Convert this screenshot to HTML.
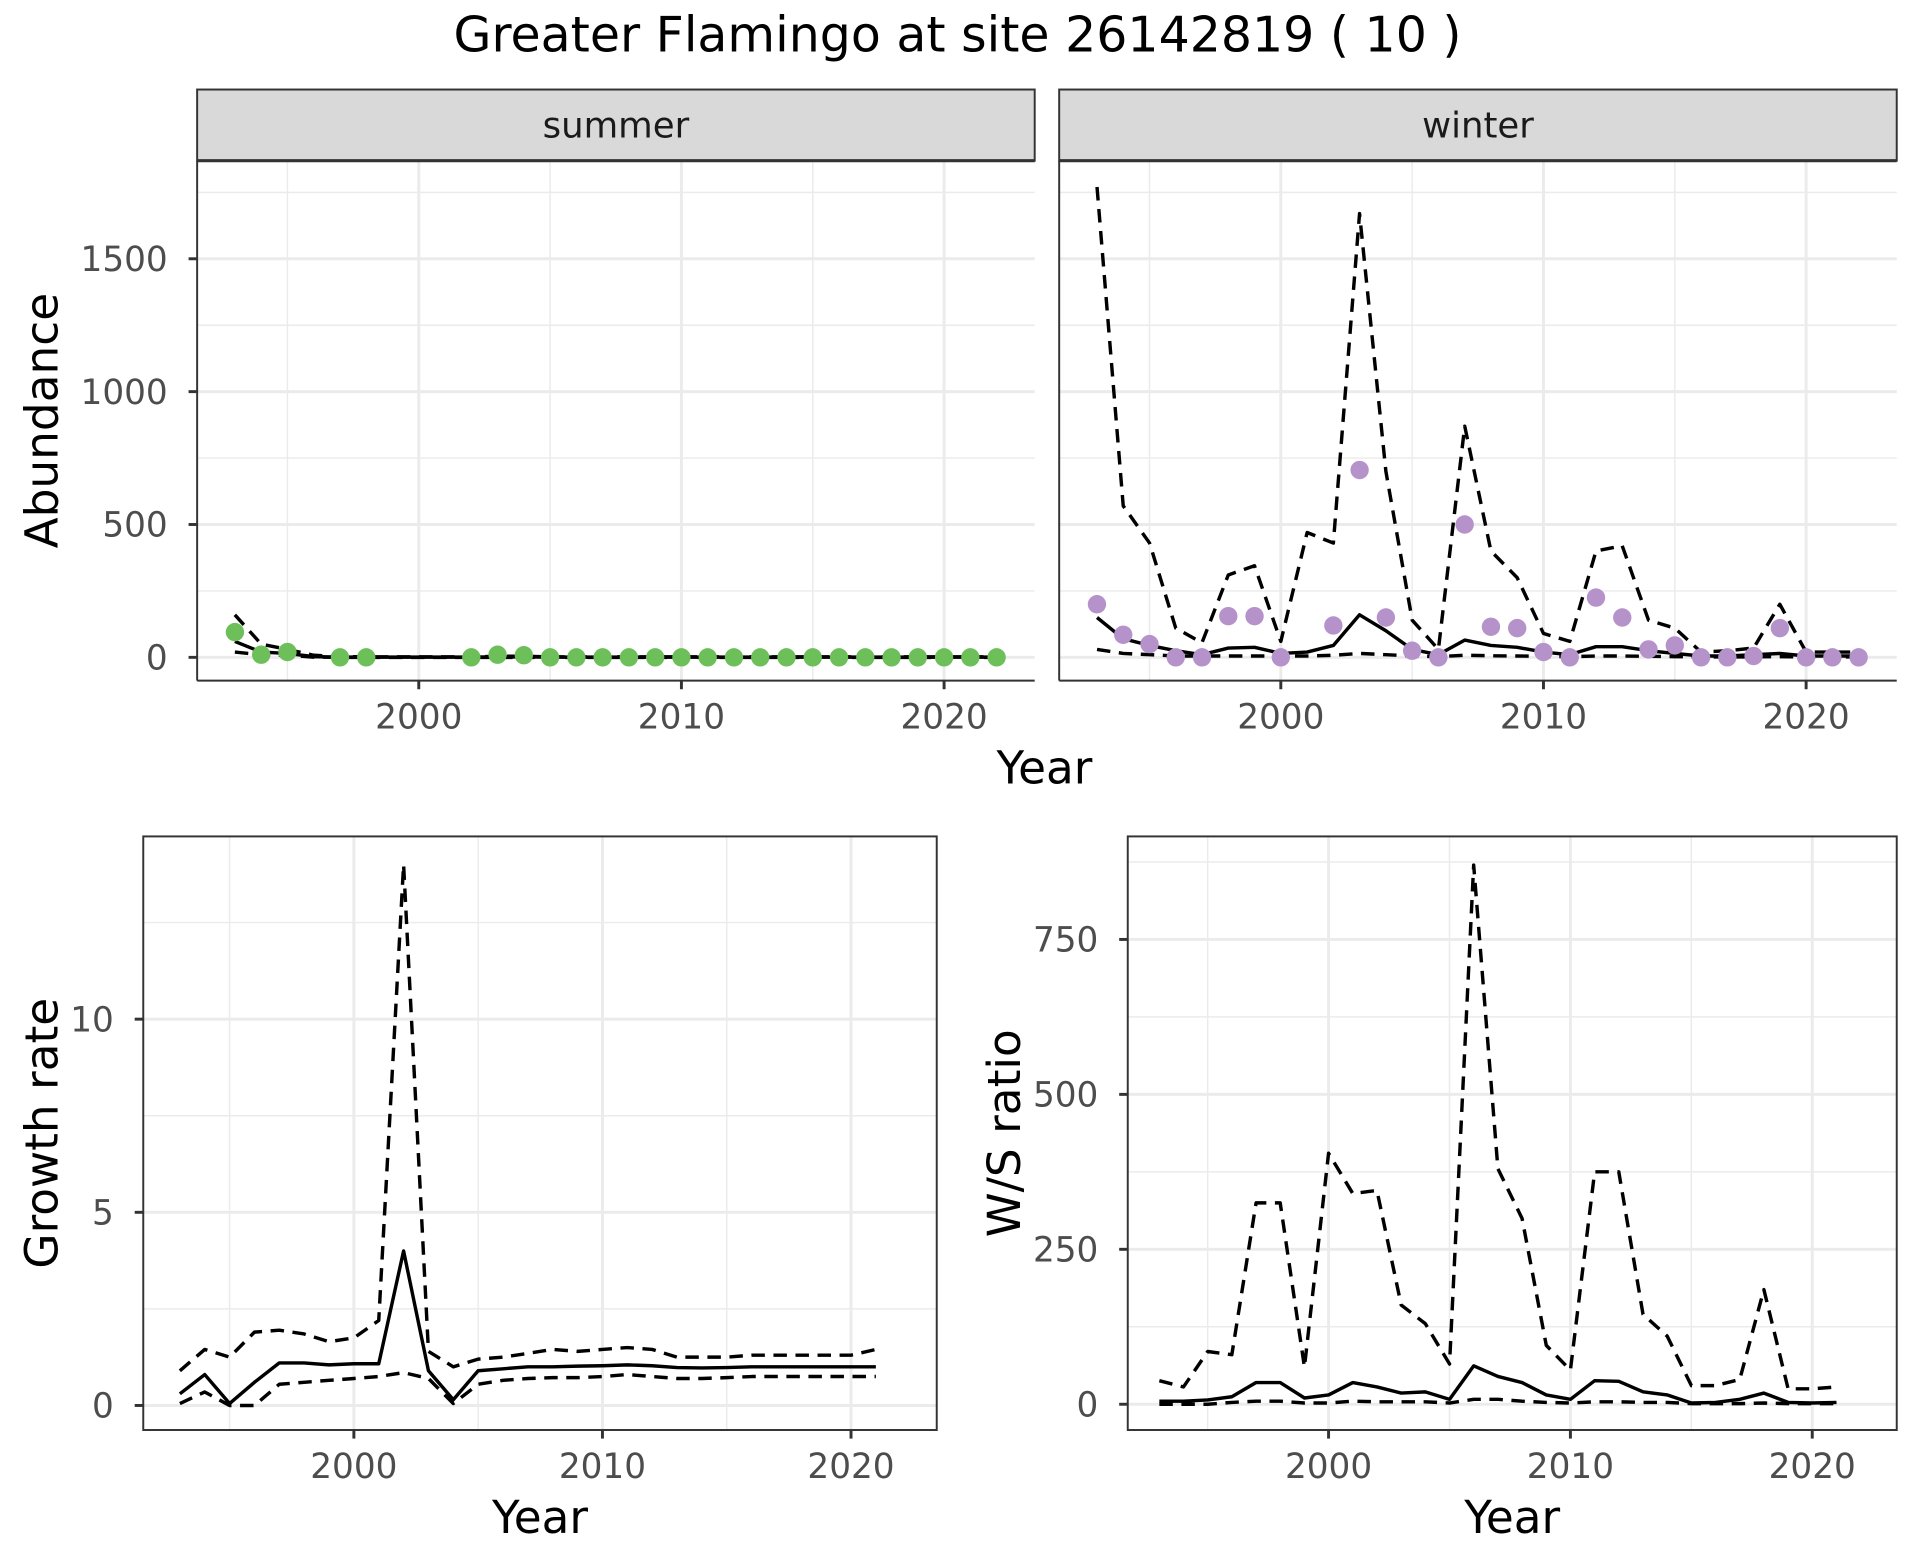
<!DOCTYPE html>
<html><head><meta charset="utf-8"><style>
html,body{margin:0;padding:0;background:#fff;}
svg{display:block;font-family:"DejaVu Sans","Liberation Sans",sans-serif;}
</style></head><body>
<svg id="chart" width="1920" height="1560" viewBox="0 0 1568 1272" preserveAspectRatio="none">
<text x="782" y="42" text-anchor="middle" font-size="40" fill="#000">Greater Flamingo at site 26142819 ( 10 )</text>
</svg>
<script>
// ---- data ----
const yearsAbund = [1993,1994,1995,1996,1997,1998,1999,2000,2001,2002,2003,2004,2005,2006,2007,2008,2009,2010,2011,2012,2013,2014,2015,2016,2017,2018,2019,2020,2021,2022];
const summerPts = [95,10,20,null,0,0,null,null,null,0,10,8,0,0,0,0,0,0,0,0,0,0,0,0,0,0,0,0,0,0];
const summerMid = [60,20,15,3,1,1,1,1,1,1,2,2,1,1,1,1,1,1,1,1,1,1,1,1,1,1,1,1,1,1];
const summerUp  = [160,50,30,8,3,2,2,2,2,2,4,4,2,2,2,2,2,2,2,2,2,2,2,2,2,2,2,2,2,2];
const summerLo  = [20,10,8,1,0,0,0,0,0,0,0,0,0,0,0,0,0,0,0,0,0,0,0,0,0,0,0,0,0,0];
const winterPts = [200,85,50,0,0,155,155,0,null,120,705,150,25,0,500,115,110,20,0,225,150,30,45,0,0,5,110,0,0,0];
const winterMid = [150,70,45,25,10,35,38,15,20,45,160,100,30,10,65,45,38,20,10,40,40,25,15,5,5,10,15,5,5,5];
const winterUp  = [1770,570,430,110,55,310,345,60,470,430,1670,700,140,30,870,400,300,90,60,400,420,140,110,20,25,35,200,20,20,20];
const winterLo  = [30,15,10,5,5,5,5,5,5,8,15,10,5,3,8,6,5,4,3,5,5,4,3,2,2,2,3,2,2,2];

const yearsRate = [1993,1994,1995,1996,1997,1998,1999,2000,2001,2002,2003,2004,2005,2006,2007,2008,2009,2010,2011,2012,2013,2014,2015,2016,2017,2018,2019,2020,2021];
const growthMid = [0.3,0.8,0.05,0.6,1.1,1.1,1.05,1.08,1.08,4.0,0.9,0.15,0.9,0.95,1.0,1.0,1.02,1.03,1.05,1.03,0.98,0.97,0.98,1.0,1.0,1.0,1.0,1.0,1.0];
const growthUp  = [0.9,1.45,1.25,1.9,1.95,1.85,1.65,1.75,2.2,14.0,1.4,1.0,1.2,1.25,1.35,1.45,1.4,1.45,1.5,1.45,1.25,1.25,1.25,1.3,1.3,1.3,1.3,1.3,1.45];
const growthLo  = [0.05,0.35,0.0,0.0,0.55,0.6,0.65,0.7,0.75,0.85,0.7,0.05,0.55,0.65,0.7,0.72,0.72,0.75,0.8,0.75,0.7,0.7,0.72,0.75,0.75,0.75,0.75,0.75,0.75];
const ratioMid = [5,5,7,12,35,35,10,15,35,28,18,20,8,62,45,35,15,8,38,37,20,15,2,3,8,18,3,2,3];
const ratioUp  = [38,28,85,80,325,325,60,405,340,345,160,130,65,870,380,300,95,55,375,375,145,110,30,30,40,185,25,25,28];
const ratioLo  = [0,0,0,3,5,5,2,2,5,4,4,4,2,8,8,5,3,2,4,4,3,3,1,1,1,2,1,1,1];

const xTicks = [2000,2010,2020];
const abundTicks = [0,500,1000,1500];
const growthTicks = [0,5,10];
const ratioTicks = [0,250,500,750];

// ---- drawing ----
const NS='http://www.w3.org/2000/svg';
const svg=document.getElementById('chart');
function mk(tag,attrs,parent){const e=document.createElementNS(NS,tag);for(const k in attrs)e.setAttribute(k,attrs[k]);(parent||svg).appendChild(e);return e;}

function panel(o){
  const g=mk('g',{});
  
  
  const sx=v=>o.x0+(v-o.xd0)*(o.x1-o.x0)/(o.xd1-o.xd0);
  const sy=v=>o.y0+(v-o.yd0)*(o.y1-o.y0)/(o.yd1-o.yd0);
  mk('rect',{x:o.l,y:o.t,width:o.r-o.l,height:o.b-o.t,fill:'#fff'},g);
  for(let i=0;i<o.yt.length;i++){const v=o.yt[i]+o.ystep/2;const yy=sy(v);if(yy>o.t&&yy<o.b)mk('line',{x1:o.l,x2:o.r,y1:yy,y2:yy,stroke:'#ebebeb','stroke-width':1.2},g);}
  {const v=o.yt[0]-o.ystep/2;const yy=sy(v);if(yy>o.t&&yy<o.b)mk('line',{x1:o.l,x2:o.r,y1:yy,y2:yy,stroke:'#ebebeb','stroke-width':1.2},g);}
  for(const v of [1995,2005,2015]){const xx=sx(v);mk('line',{x1:xx,x2:xx,y1:o.t,y2:o.b,stroke:'#ebebeb','stroke-width':1.2},g);}
  for(const v of o.yt){const yy=sy(v);mk('line',{x1:o.l,x2:o.r,y1:yy,y2:yy,stroke:'#ebebeb','stroke-width':2.4},g);}
  for(const v of xTicks){const xx=sx(v);mk('line',{x1:xx,x2:xx,y1:o.t,y2:o.b,stroke:'#ebebeb','stroke-width':2.4},g);}
  function line(xs,ys,dash,nm){
    const pts=[];for(let i=0;i<xs.length;i++){if(ys[i]!=null)pts.push(sx(xs[i]).toFixed(1)+','+sy(ys[i]).toFixed(1));}
    const p=mk('polyline',{points:pts.join(' '),fill:'none',stroke:'#000','stroke-width':2.8,'stroke-linejoin':'round'},g);
    if(dash)p.setAttribute('stroke-dasharray','11,7');
    
    
  }
  line(o.xs,o.lo,true,'lower-bound-line');
  line(o.xs,o.up,true,'upper-bound-line');
  line(o.xs,o.mid,false,'trend-line');
  if(o.pts){for(let i=0;i<o.xs.length;i++){if(o.pts[i]==null)continue;
    const c=mk('circle',{cx:sx(o.xs[i]),cy:sy(o.pts[i]),r:7.5,fill:o.color},g);
    
    }}
  if(o.box){mk('rect',{x:o.l,y:o.t,width:o.r-o.l,height:o.b-o.t,fill:'none',stroke:'#333','stroke-width':1.6},g);}
  else{mk('line',{x1:o.l,x2:o.l,y1:o.t,y2:o.b,stroke:'#333','stroke-width':1.6},g);mk('line',{x1:o.l,x2:o.r,y1:o.b,y2:o.b,stroke:'#333','stroke-width':1.6},g);}
  if(o.yLabels){for(const v of o.yt){const yy=sy(v);mk('line',{x1:o.l-7,x2:o.l,y1:yy,y2:yy,stroke:'#333','stroke-width':2.4},g);
    const t=mk('text',{x:o.l-24,y:yy+10,'text-anchor':'end','font-size':28,fill:'#4d4d4d'},g);t.textContent=String(v);
    
    }}
  for(const v of xTicks){const xx=sx(v);mk('line',{x1:xx,x2:xx,y1:o.b,y2:o.b+7,stroke:'#333','stroke-width':2.4},g);
    const t=mk('text',{x:xx,y:o.b+39,'text-anchor':'middle','font-size':28,fill:'#4d4d4d'},g);t.textContent=String(v);
    
    }
  if(o.strip){mk('rect',{x:o.l,y:o.t-58,width:o.r-o.l,height:58,fill:'#d9d9d9',stroke:'#333','stroke-width':1.6},g);
    mk('line',{x1:o.l,x2:o.r,y1:o.t,y2:o.t,stroke:'#333','stroke-width':2.6},g);
    const t=mk('text',{x:(o.l+o.r)/2,y:o.t-19,'text-anchor':'middle','font-size':29,fill:'#1a1a1a'},g);t.textContent=o.strip;
    
    }
}

panel({name:'summer-panel',l:161,r:845,t:131,b:555,x0:342,x1:771,xd0:2000,xd1:2020,y0:536,y1:211,yd0:0,yd1:1500,yt:abundTicks,ystep:500,
  xs:yearsAbund,pts:summerPts,mid:summerMid,up:summerUp,lo:summerLo,color:'#6dbf5a',yLabels:true,strip:'summer',box:false});
panel({name:'winter-panel',l:865,r:1549,t:131,b:555,x0:1046,x1:1475,xd0:2000,xd1:2020,y0:536,y1:211,yd0:0,yd1:1500,yt:abundTicks,ystep:500,
  xs:yearsAbund,pts:winterPts,mid:winterMid,up:winterUp,lo:winterLo,color:'#b592c9',yLabels:false,strip:'winter',box:false});
panel({name:'growth-rate-panel',l:117,r:765,t:682,b:1166,x0:289,x1:695,xd0:2000,xd1:2020,y0:1146,y1:831,yd0:0,yd1:10,yt:growthTicks,ystep:5,
  xs:yearsRate,mid:growthMid,up:growthUp,lo:growthLo,yLabels:true,box:true});
panel({name:'ws-ratio-panel',l:921,r:1549,t:682,b:1166,x0:1085,x1:1480,xd0:2000,xd1:2020,y0:1145,y1:766,yd0:0,yd1:750,yt:ratioTicks,ystep:250,
  xs:yearsRate,mid:ratioMid,up:ratioUp,lo:ratioLo,yLabels:true,box:true});

function label(txt,x,y,rot,nm){const t=mk('text',{x:x,y:y,'text-anchor':'middle','font-size':37,fill:'#000'});
  if(rot)t.setAttribute('transform','rotate(-90 '+x+' '+y+')');t.textContent=txt;
  
  }
label('Year',853,639,false,'x-axis-title');
label('Abundance',47,343,true,'y-axis-title');
label('Year',441,1250,false,'x-axis-title');
label('Growth rate',47,924,true,'y-axis-title');
label('Year',1235,1250,false,'x-axis-title');
label('W/S ratio',833,924,true,'y-axis-title');
</script>
</body></html>
